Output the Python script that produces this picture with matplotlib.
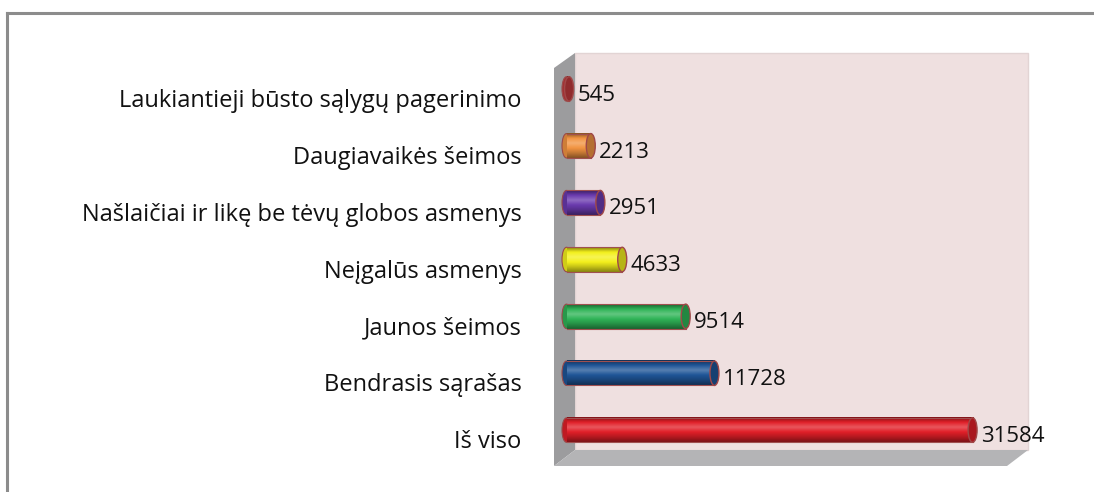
import numpy as np
import matplotlib
matplotlib.use("Agg")
import matplotlib.pyplot as plt
from matplotlib.colors import LinearSegmentedColormap, to_rgb
from matplotlib.patches import Ellipse, Polygon
from matplotlib.lines import Line2D
from matplotlib.transforms import ScaledTranslation

plt.rcParams['font.family'] = ['Open Sans', 'DejaVu Sans']

# data, bottom to top
categories = ["Iš viso", "Bendrasis sąrašas", "Jaunos šeimos", "Neįgalūs asmenys",
              "Našlaičiai ir likę be tėvų globos asmenys", "Daugiavaikės šeimos",
              "Laukiantieji būsto sąlygų pagerinimo"]
values = [31584, 11728, 9514, 4633, 2951, 2213, 545]
colors = ["#e11f28", "#1f5597", "#2fb457", "#f4f01c", "#6a3aae", "#f29441", "#c0393c"]

W, H = 1094, 492
fig = plt.figure(figsize=(W / 100, H / 100), dpi=100)


def fx(px):
    return px / W


def fy(py):
    return 1 - py / H


# outer frame (left and top lines)
fig.add_artist(Line2D([fx(7), fx(7)], [fy(13), 0], color="#8c8c8c", lw=2.2))
fig.add_artist(Line2D([fx(7), 1], [fy(13), fy(13)], color="#8c8c8c", lw=2.2))

# 3D box: back wall, side wall, floor (behind the axes)
back = Polygon([(fx(575), fy(53)), (fx(1028), fy(53)), (fx(1028), fy(450)), (fx(575), fy(450))],
               closed=True, facecolor="#efe0e0", edgecolor="#e2d4d4", lw=1)
side = Polygon([(fx(554), fy(68)), (fx(575), fy(53)), (fx(575), fy(450)), (fx(554), fy(466))],
               closed=True, facecolor="#9c9c9e", edgecolor="none")
floor = Polygon([(fx(554), fy(466)), (fx(575), fy(450)), (fx(1028), fy(450)), (fx(1007), fy(466))],
                closed=True, facecolor="#b4b4b6", edgecolor="none")
for p in (back, side, floor):
    p.set_transform(fig.transFigure)
    p.set_zorder(-5)
    fig.add_artist(p)

ax = fig.add_axes([fx(562), fy(458.5), fx(1017) - fx(562), (458.5 - 60.5) / H])
ax.set_facecolor("none")
ax.set_zorder(1)
for s in ax.spines.values():
    s.set_visible(False)

xmax = 35000
bh = 0.43
cap_w = 9 / (1017 - 562) * xmax

for i, (v, c) in enumerate(zip(values, colors)):
    base = np.array(to_rgb(c))
    dark = base * 0.55
    light = np.clip(base + (1 - base) * 0.25, 0, 1)
    cmap = LinearSegmentedColormap.from_list("cyl", [dark, base, light, base, base * 0.8, dark])
    grad = np.linspace(0, 1, 64).reshape(-1, 1)
    # left rounded end
    ax.add_patch(Ellipse((cap_w / 2, i), cap_w, bh, facecolor=base * 0.85, edgecolor="#9a4a4a",
                         lw=0.8, zorder=2, clip_on=False))
    x0 = cap_w / 2
    ax.imshow(grad, cmap=cmap, aspect="auto", extent=[x0, max(v, x0), i - bh / 2, i + bh / 2],
              origin="upper", zorder=3, interpolation="bicubic")
    ax.plot([x0, max(v, x0)], [i + bh / 2, i + bh / 2], color="#a05050", lw=0.8, zorder=4)
    ax.plot([x0, max(v, x0)], [i - bh / 2, i - bh / 2], color="#a05050", lw=0.8, zorder=4)
    # right end cap
    ax.add_patch(Ellipse((max(v, x0), i), cap_w, bh, facecolor=base * 0.75, edgecolor="#a04848",
                         lw=1.0, zorder=5))
    ax.annotate(str(v), xy=(max(v, x0), i), xytext=(6, -4.5), textcoords="offset points",
                ha="left", va="center", fontsize=16, color="#111111", zorder=6)

ax.set_xlim(0, xmax)
ax.set_ylim(-0.5, len(values) - 0.5)
ax.set_xticks([])
ax.set_yticks(range(len(categories)))
ax.set_yticklabels(categories, fontsize=17, color="#111111")
ax.tick_params(axis="y", length=0, pad=29)
for lab in ax.get_yticklabels():
    lab.set_transform(lab.get_transform() + ScaledTranslation(0, -0.09, fig.dpi_scale_trans))

fig.savefig("out.png", dpi=100, facecolor="white")
